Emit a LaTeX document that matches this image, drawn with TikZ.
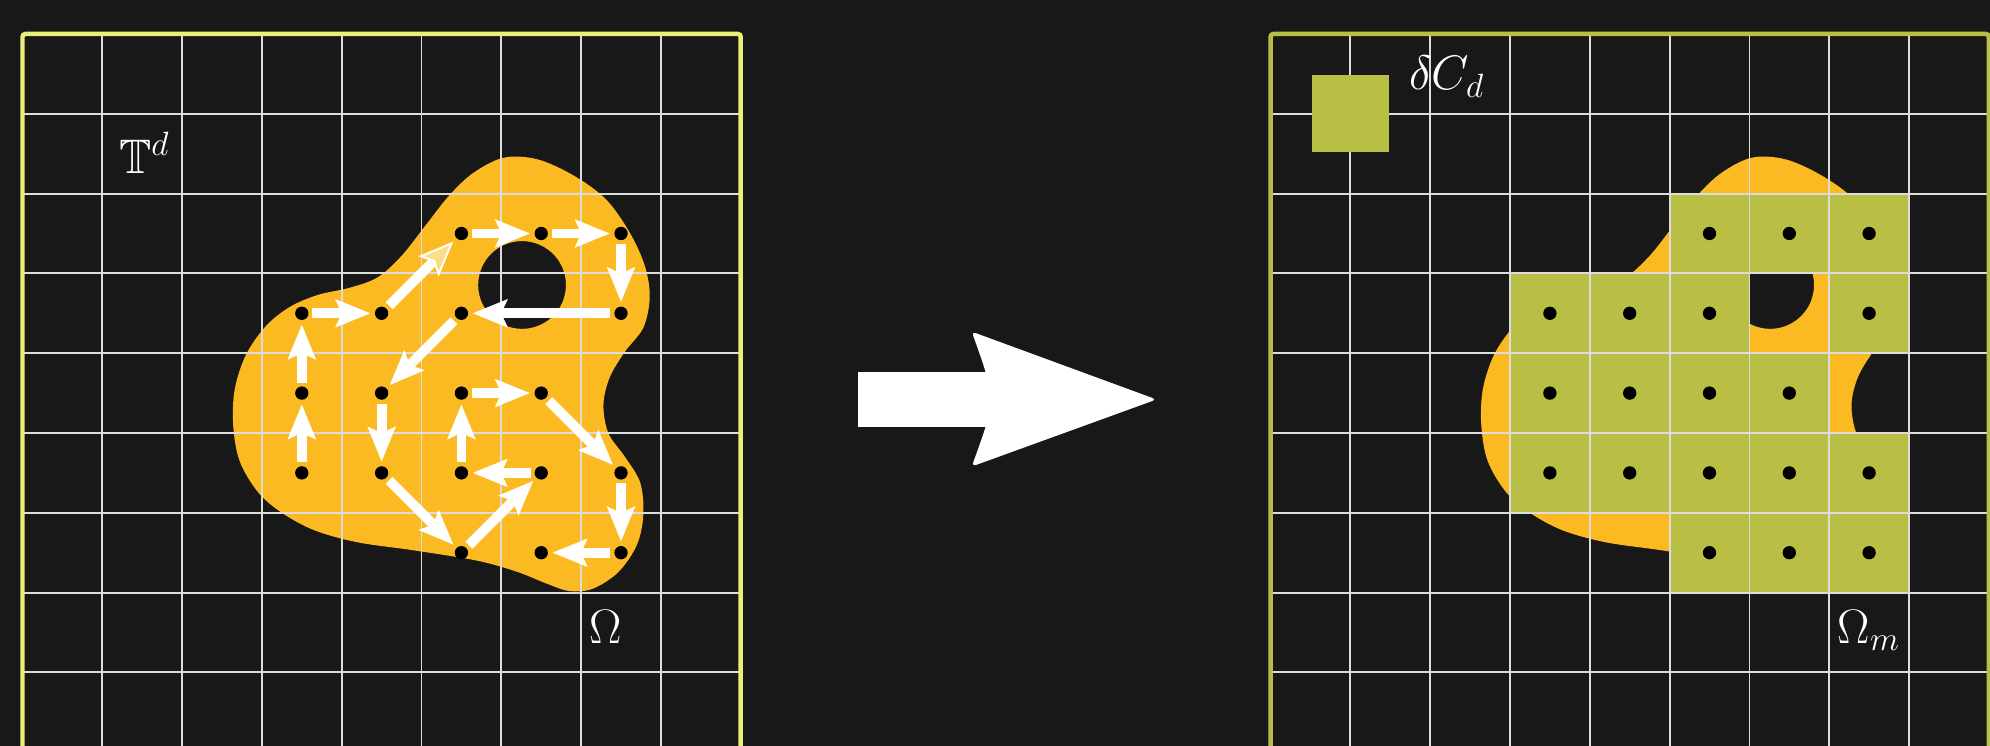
\documentclass[tikz,border=0pt]{standalone}
\usepackage{amssymb}
\usetikzlibrary{arrows.meta}
\definecolor{bgc}{HTML}{181818}
\definecolor{blobc}{HTML}{FCBA22}
\definecolor{greenc}{HTML}{B9BF45}
\definecolor{framel}{HTML}{E9EF78}
\definecolor{gridc}{HTML}{DCDCDC}
\definecolor{headyel}{HTML}{FDDC88}
\tikzset{
  dot/.style={circle, fill=black, draw=none, inner sep=0pt, minimum size=0.167cm},
  arr/.style={draw=white, line width=3.5pt, shorten <=1.2pt, shorten >=1.5pt,
    -{Stealth[length=12.5pt, width=10.2pt, inset=2.4pt, line width=0pt]}},
  arry/.style={draw=white, line width=3.5pt, shorten <=1.2pt, shorten >=1.5pt,
    -{Stealth[length=12.5pt, width=10.2pt, inset=2.4pt, fill=headyel, line width=0.7pt]}},
  lbl/.style={text=white, font=\LARGE, inner sep=0pt},
  gridline/.style={draw=gridc, line width=0.65pt},
}
\begin{document}
\begin{tikzpicture}
\useasboundingbox (-0.282,-8.922) rectangle (24.655,0.426);
\clip (-0.282,-8.922) rectangle (24.655,0.426);
\fill[bgc] (-0.282,-8.922) rectangle (24.655,0.426);

% blobs
\foreach \sx in {0,15.64}{
\begin{scope}[xshift=\sx cm]
\fill[blobc, even odd rule] plot[smooth cycle, tension=0.55] coordinates {
 (6.03,-1.55) (6.45,-1.57) (6.9,-1.77) (7.31,-2.07) (7.61,-2.49) (7.80,-2.91)
 (7.86,-3.3) (7.78,-3.68) (7.55,-3.98) (7.36,-4.3) (7.28,-4.64) (7.34,-5.0)
 (7.55,-5.3) (7.74,-5.62) (7.78,-6.02) (7.70,-6.40) (7.47,-6.74) (7.15,-6.95)
 (6.85,-6.98) (6.55,-6.88) (6.2,-6.74) (5.7,-6.6) (4.9,-6.47) (4.2,-6.37)
 (3.66,-6.22) (3.25,-6.0) (2.95,-5.74) (2.72,-5.35) (2.64,-4.9) (2.66,-4.45)
 (2.80,-4.02) (3.05,-3.66) (3.35,-3.42) (3.7,-3.27) (4.1,-3.18) (4.45,-3.05)
 (4.75,-2.78) (5.05,-2.40) (5.35,-2.02) (5.65,-1.74)}
 (6.26,-3.145) circle[radius=0.55];
\end{scope}
}

% green cells (right panel)
\foreach \c/\r in {2/0,3/0,4/0,0/1,1/1,2/1,4/1,0/2,1/2,2/2,3/2,0/3,1/3,2/3,3/3,4/3,2/4,3/4,4/4}{
  \fill[greenc] ({15.64+3+\c},{-2-\r}) rectangle ({15.64+4+\c},{-3-\r});
}

% grids and frames
\foreach \sx/\fc in {0/framel,15.64/greenc}{
\begin{scope}[xshift=\sx cm]
\draw[gridline] (0,-9) grid (9,0);
\draw[draw=\fc, line width=1.6pt, rounded corners=1pt] (0,-9) rectangle (9,0);
\end{scope}
}

% legend square
\fill[greenc] (15.64+0.515,-0.515) rectangle (15.64+1.485,-1.485);

% dots
\foreach \c/\r in {2/0,3/0,4/0,0/1,1/1,2/1,4/1,0/2,1/2,2/2,3/2,0/3,1/3,2/3,3/3,4/3,2/4,3/4,4/4}{
  \node[dot] (L-\c-\r) at ({3.5+\c},{-2.5-\r}) {};
  \node[dot] (R-\c-\r) at ({15.64+3.5+\c},{-2.5-\r}) {};
}

% path arrows
\foreach \a/\b in {0-3/0-2, 0-2/0-1, 0-1/1-1, 2-0/3-0, 3-0/4-0, 4-0/4-1, 4-1/2-1,
  2-1/1-2, 1-2/1-3, 1-3/2-4, 2-4/3-3, 3-3/2-3, 2-3/2-2, 2-2/3-2, 3-2/4-3, 4-3/4-4, 4-4/3-4}{
  \draw[arr] (L-\a) -- (L-\b);
}
\draw[arry] (L-1-1) -- (L-2-0);

% big arrow
\fill[white] (10.47,-4.24) rectangle (12.45,-4.925);
\fill[white, rounded corners=1.5pt] (14.21,-4.58) -- (11.895,-3.73)
  .. controls (12.2,-4.58) .. (11.895,-5.42) -- cycle;

% labels
\node[lbl, anchor=base west] (Td) at (1.203,-1.742) {$\mathbb{T}^d$};
\node[lbl, anchor=base west] (Om) at (7.10,-7.635) {$\Omega$};
\node[lbl, anchor=base west] (dC) at (17.37,-0.70) {$\delta C_d$};
\node[lbl, anchor=base west] (Omm) at (22.74,-7.635) {$\Omega_m$};
\end{tikzpicture}
\end{document}
